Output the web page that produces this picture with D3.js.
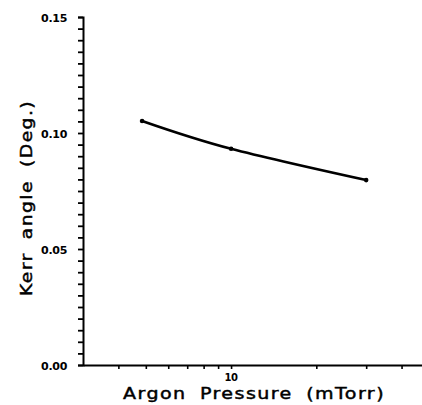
<!DOCTYPE html>
<html><head><meta charset="utf-8">
<script src="https://cdn.jsdelivr.net/npm/d3@7"></script>
<style>body{margin:0;background:#fff}svg{display:block}</style>
</head><body>
<svg id="c" width="422" height="405"></svg>
<script>
const pressure = [4.85, 10, 30];
const kerr = [0.1052, 0.0932, 0.0797];
const yMajorTicks = [0, 0.05, 0.10, 0.15];
const yTickLabels = ["0.00", "0.05", "0.10", "0.15"];
const xMinorTicks = [4, 5, 6, 7, 8, 9, 10, 20, 30, 40];
const xTickLabels = [{v: 10, t: "10"}];

const svg = d3.select("#c");
const x = d3.scaleLog().domain([3, 50]).range([83, 429]);
const y = d3.scaleLinear().domain([0, 0.15]).range([365, 17]);

// y axis
const yMinor = d3.range(0, 0.1501, 0.005);
svg.append("g").attr("transform", "translate(83,0)")
  .call(d3.axisLeft(y).tickValues(yMinor).tickSize(5).tickFormat(""))
  .call(g => g.select(".domain").attr("stroke-width", 2))
  .call(g => g.selectAll(".tick line").attr("stroke-width", 1.8));
svg.append("g").selectAll("text").data(yMajorTicks).join("text")
  .attr("x", 67).attr("y", d => y(d) + 4.5).attr("text-anchor", "end")
  .attr("font-family", "DejaVu Sans").attr("font-weight", "bold")
  .attr("font-size", 11).attr("letter-spacing", -0.3)
  .text((d, i) => yTickLabels[i]);

// x axis
svg.append("g").attr("transform", "translate(0,365)")
  .call(d3.axisBottom(x).tickValues(xMinorTicks).tickSize(4).tickFormat("").tickSizeOuter(0))
  .call(g => g.select(".domain").attr("stroke-width", 2))
  .call(g => g.selectAll(".tick line").attr("stroke-width", 1.6));
svg.append("g").selectAll("text").data(xTickLabels).join("text")
  .attr("x", d => x(d.v)).attr("y", 381).attr("text-anchor", "middle")
  .attr("font-family", "DejaVu Sans").attr("font-weight", "bold")
  .attr("font-size", 10).attr("letter-spacing", -0.3)
  .text(d => d.t);

// titles
const titleStyle = t => t.attr("font-family", "DejaVu Sans").attr("font-size", 16)
  .attr("letter-spacing", 1.2).attr("word-spacing", 5)
  .attr("lengthAdjust", "spacingAndGlyphs")
  .attr("stroke", "#000").attr("stroke-width", 0.45).attr("fill", "#000");
svg.append("text").attr("x", 123).attr("y", 399)
  .call(titleStyle).attr("textLength", 262).text("Argon Pressure (mTorr)");
svg.append("text").attr("transform", "translate(32,296) rotate(-90)")
  .call(titleStyle).attr("textLength", 196).text("Kerr angle (Deg.)");

// line
const pts = pressure.map((p, i) => [x(p), y(kerr[i])]);
svg.append("path").datum(pts)
  .attr("d", d3.line().curve(d3.curveNatural))
  .attr("fill", "none").attr("stroke", "#000").attr("stroke-width", 2.6);
svg.append("g").selectAll("circle").data(pts).join("circle")
  .attr("cx", d => d[0]).attr("cy", d => d[1]).attr("r", 2.3).attr("fill", "#000");
</script>
</body></html>
